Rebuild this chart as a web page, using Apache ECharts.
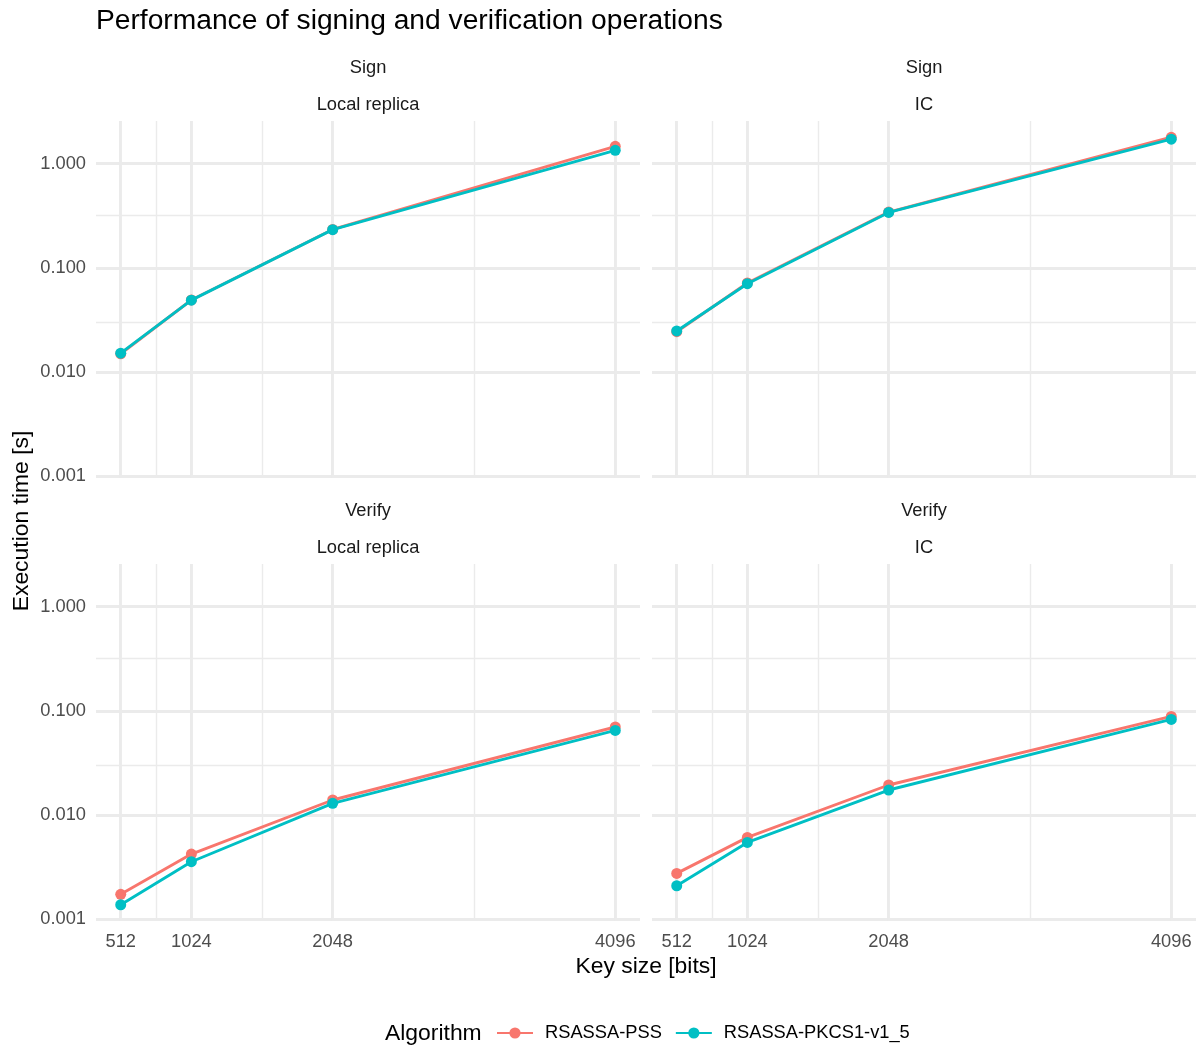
<!DOCTYPE html>
<html><head><meta charset="utf-8">
<script src="https://cdn.jsdelivr.net/npm/echarts@6/dist/echarts.min.js"></script>
<style>html,body{margin:0;padding:0;background:#fff}#c{width:1204px;height:1050px}</style>
</head><body><div id="c"></div>
<script>
// ---- data ----
const keySizes = [512, 1024, 2048, 4096];
const algorithms = ['RSASSA-PSS', 'RSASSA-PKCS1-v1_5'];
const operations = ['Sign', 'Verify'];
const environments = ['Local replica', 'IC'];

const signLocalPSS   = [0.0150, 0.0492, 0.2335, 1.466];
const signLocalPKCS  = [0.0152, 0.0490, 0.2325, 1.342];
const signIcPSS      = [0.0244, 0.0716, 0.3430, 1.790];
const signIcPKCS     = [0.0248, 0.0705, 0.3400, 1.715];
const verifyLocalPSS  = [0.00174, 0.00423, 0.01396, 0.0700];
const verifyLocalPKCS = [0.00138, 0.00357, 0.01298, 0.0649];
const verifyIcPSS     = [0.00276, 0.00611, 0.01945, 0.0884];
const verifyIcPKCS    = [0.00210, 0.00547, 0.01740, 0.0827];

const yTickValues = [0.001, 0.01, 0.1, 1];
const yMinorValues = [0.0031623, 0.031623, 0.31623];
const xMinorValues = [768, 1536, 3072];
const yLimits = [0.000964, 2.564];
const xLimits = [332.8, 4275.2];

const colors = ['#F8766D', '#00BFC4'];
const FONT = "'Liberation Sans', Arial, Helvetica, sans-serif";

const panels = [
  {op: operations[0], env: environments[0], pss: signLocalPSS, pkcs: signLocalPKCS, col: 0, row: 0},
  {op: operations[0], env: environments[1], pss: signIcPSS, pkcs: signIcPKCS, col: 1, row: 0},
  {op: operations[1], env: environments[0], pss: verifyLocalPSS, pkcs: verifyLocalPKCS, col: 0, row: 1},
  {op: operations[1], env: environments[1], pss: verifyIcPSS, pkcs: verifyIcPKCS, col: 1, row: 1}
];

const panelLeft = [96, 652], panelTop = [121, 564], panelW = 544, panelH = 357;
const gridColor = '#EBEBEB';

const grids = [], xAxes = [], yAxes = [], series = [], graphics = [];

function centeredText(x, y, text, size, fill, align, rotation) {
  return {type: 'text', x: x, y: y, rotation: rotation || 0, silent: true,
    style: {text: text, fill: fill, font: size + 'px ' + FONT,
      textAlign: align, textVerticalAlign: 'middle', align: align, verticalAlign: 'middle'}};
}

panels.forEach((p, i) => {
  grids.push({left: panelLeft[p.col], top: panelTop[p.row], width: panelW, height: panelH,
    containLabel: false, outerBoundsMode: 'none', show: false});
  xAxes.push({
    type: 'value', gridIndex: i, min: xLimits[0], max: xLimits[1],
    axisLine: {show: false},
    axisTick: {show: false, customValues: keySizes},
    axisLabel: {show: p.row === 1, customValues: keySizes, color: '#4D4D4D',
      fontSize: 18.3, fontFamily: FONT, margin: 12, formatter: v => String(v)},
    splitLine: {show: true, lineStyle: {color: gridColor, width: 2.9}}
  });
  yAxes.push({
    type: 'log', logBase: 10, gridIndex: i, min: yLimits[0], max: yLimits[1],
    axisLine: {show: false},
    axisTick: {show: false, customValues: yTickValues},
    axisLabel: {show: p.col === 0, customValues: yTickValues, color: '#4D4D4D',
      fontSize: 18.3, fontFamily: FONT, margin: 10, padding: [4, 0, 0, 0],
      formatter: v => Number(v).toFixed(3)},
    splitLine: {show: true, lineStyle: {color: gridColor, width: 2.9}}
  });
  // minor grid lines
  series.push({
    name: 'minor' + i, type: 'line', xAxisIndex: i, yAxisIndex: i, data: [], z: 1,
    silent: true, animation: false,
    markLine: {
      z: 1, silent: true, symbol: ['none', 'none'], label: {show: false}, animation: false,
      emphasis: {disabled: true},
      lineStyle: {color: gridColor, width: 1.45, type: 'solid'},
      data: xMinorValues.map(v => ({xAxis: v})).concat(yMinorValues.map(v => ({yAxis: v})))
    }
  });
  [p.pss, p.pkcs].forEach((vals, a) => {
    series.push({
      name: algorithms[a], type: 'line', xAxisIndex: i, yAxisIndex: i,
      data: keySizes.map((k, j) => [k, vals[j]]),
      symbol: 'circle', symbolSize: 11, showSymbol: true,
      lineStyle: {color: colors[a], width: 2.9},
      itemStyle: {color: colors[a]},
      emphasis: {disabled: true}, animation: false, z: 3 + a
    });
  });
  const cx = panelLeft[p.col] + panelW / 2;
  const ty = panelTop[p.row];
  graphics.push(centeredText(cx, ty - 53.5, p.op, 18.3, '#1A1A1A', 'center'));
  graphics.push(centeredText(cx, ty - 16, p.env, 18.3, '#1A1A1A', 'center'));
});

graphics.push(centeredText(96, 21.5, 'Performance of signing and verification operations', 28.2, '#000', 'left'));
graphics.push(centeredText(22, 521, 'Execution time [s]', 22.9, '#000', 'center', Math.PI / 2));
graphics.push(centeredText(646, 967, 'Key size [bits]', 22.9, '#000', 'center'));
graphics.push(centeredText(385, 1034, 'Algorithm', 22.9, '#000', 'left'));

const chart = echarts.init(document.getElementById('c'), null, {renderer: 'canvas'});
chart.setOption({
  backgroundColor: '#fff',
  animation: false,
  grid: grids, xAxis: xAxes, yAxis: yAxes, series: series,
  legend: {
    data: algorithms, left: 496, top: 1024, orient: 'horizontal', padding: 0,
    itemWidth: 36, itemHeight: 14, itemGap: 13,
    textStyle: {fontSize: 18.3, fontFamily: FONT, color: '#000', padding: [0, 0, 0, 7]},
    selectedMode: false
  },
  graphic: graphics
});
</script></body></html>
